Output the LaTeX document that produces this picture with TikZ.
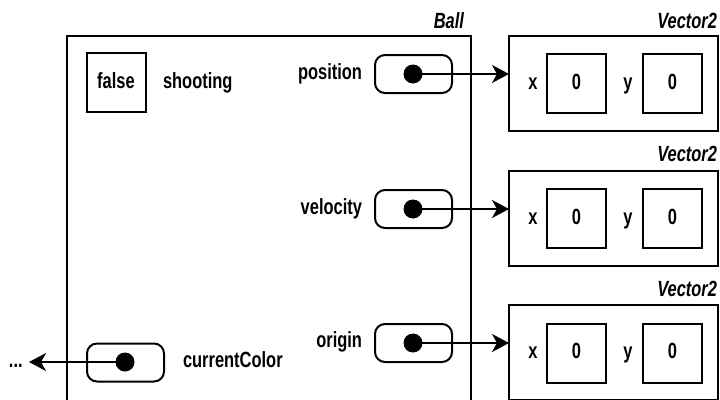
\documentclass[tikz,border=0pt]{standalone}
\usepackage{fontspec}
\setmainfont{Liberation Sans}[FakeStretch=0.748]
\usetikzlibrary{arrows.meta}
\begin{document}
\begin{tikzpicture}[x=1pt,y=-1pt,
  every node/.style={inner sep=0pt, outer sep=0pt, font=\fontsize{22}{24}\selectfont\bfseries},
  txt/.style={anchor=base},
  frame/.style={draw, line width=2pt},
  valbox/.style={draw, line width=2pt, minimum width=59pt, minimum height=59pt},
  vecbox/.style={draw, line width=2pt, minimum width=209pt, minimum height=95pt},
  ptrbox/.style={draw, line width=2pt, rounded corners=10pt, minimum width=77pt, minimum height=38pt},
  dot/.style={circle, fill=black, minimum size=19pt},
  typelabel/.style={anchor=base east, font=\fontsize{22}{24}\selectfont\bfseries\itshape},
  link/.style={line width=1.6pt, -{Stealth[length=17pt, width=18pt, inset=5pt]}}
]
\useasboundingbox (0,0) rectangle (720,399);
\clip (0,0) rectangle (720,399);

% Ball object (open at bottom)
\draw[frame] (67,410) -- (67,36) -- (471,36) -- (471,410);
\node[typelabel] (balllbl) at (464,28) {Ball};

% shooting field
\node[valbox] (false) at (116,82.5) {};
\node[txt] (falsetxt) at (116,88) {false};
\node[anchor=base west] (shooting) at (163,88) {shooting};

% pointer fields
\node[anchor=base east] (poslbl) at (362,79) {position};
\node[ptrbox] (posbox) at (413.5,74) {};
\node[dot] (posdot) at (413,74) {};

\node[anchor=base east] (vellbl) at (362,214) {velocity};
\node[ptrbox] (velbox) at (413.5,209) {};
\node[dot] (veldot) at (413,209) {};

\node[anchor=base east] (orilbl) at (362,347) {origin};
\node[ptrbox] (oribox) at (413.5,343) {};
\node[dot] (oridot) at (413,343) {};

\node[ptrbox] (colbox) at (125.5,362.5) {};
\node[dot] (coldot) at (125,362) {};
\node[anchor=base west] (collbl) at (183,367) {currentColor};
\node[anchor=base west] (more) at (9,367) {...};
\coordinate (moretip) at (29,362);

% Vector2 objects
\node[vecbox] (vec1) at (613.5,83.5) {};
\node[typelabel] (vec1lbl) at (717,28) {Vector2};
\node[txt] (x1) at (533,89) {x};
\node[valbox] (x1v) at (576.5,83.5) {};
\node[txt] (x1t) at (576.5,89) {0};
\node[txt] (y1) at (628,89) {y};
\node[valbox] (y1v) at (672.5,83.5) {};
\node[txt] (y1t) at (672.5,89) {0};

\node[vecbox] (vec2) at (613.5,218.5) {};
\node[typelabel] (vec2lbl) at (717,161.5) {Vector2};
\node[txt] (x2) at (533,224) {x};
\node[valbox] (x2v) at (576.5,218) {};
\node[txt] (x2t) at (576.5,224) {0};
\node[txt] (y2) at (628,224) {y};
\node[valbox] (y2v) at (672.5,218) {};
\node[txt] (y2t) at (672.5,224) {0};

\node[vecbox] (vec3) at (613.5,352) {};
\node[typelabel] (vec3lbl) at (717,296) {Vector2};
\node[txt] (x3) at (533,358) {x};
\node[valbox] (x3v) at (576.5,353) {};
\node[txt] (x3t) at (576.5,358) {0};
\node[txt] (y3) at (628,358) {y};
\node[valbox] (y3v) at (672.5,353) {};
\node[txt] (y3t) at (672.5,358) {0};

% references
\draw[link] (posdot.center) -- (posdot.center -| vec1.west);
\draw[link] (veldot.center) -- (veldot.center -| vec2.west);
\draw[link] (oridot.center) -- (oridot.center -| vec3.west);
\draw[link] (coldot.center) -- (moretip);
\end{tikzpicture}
\end{document}
